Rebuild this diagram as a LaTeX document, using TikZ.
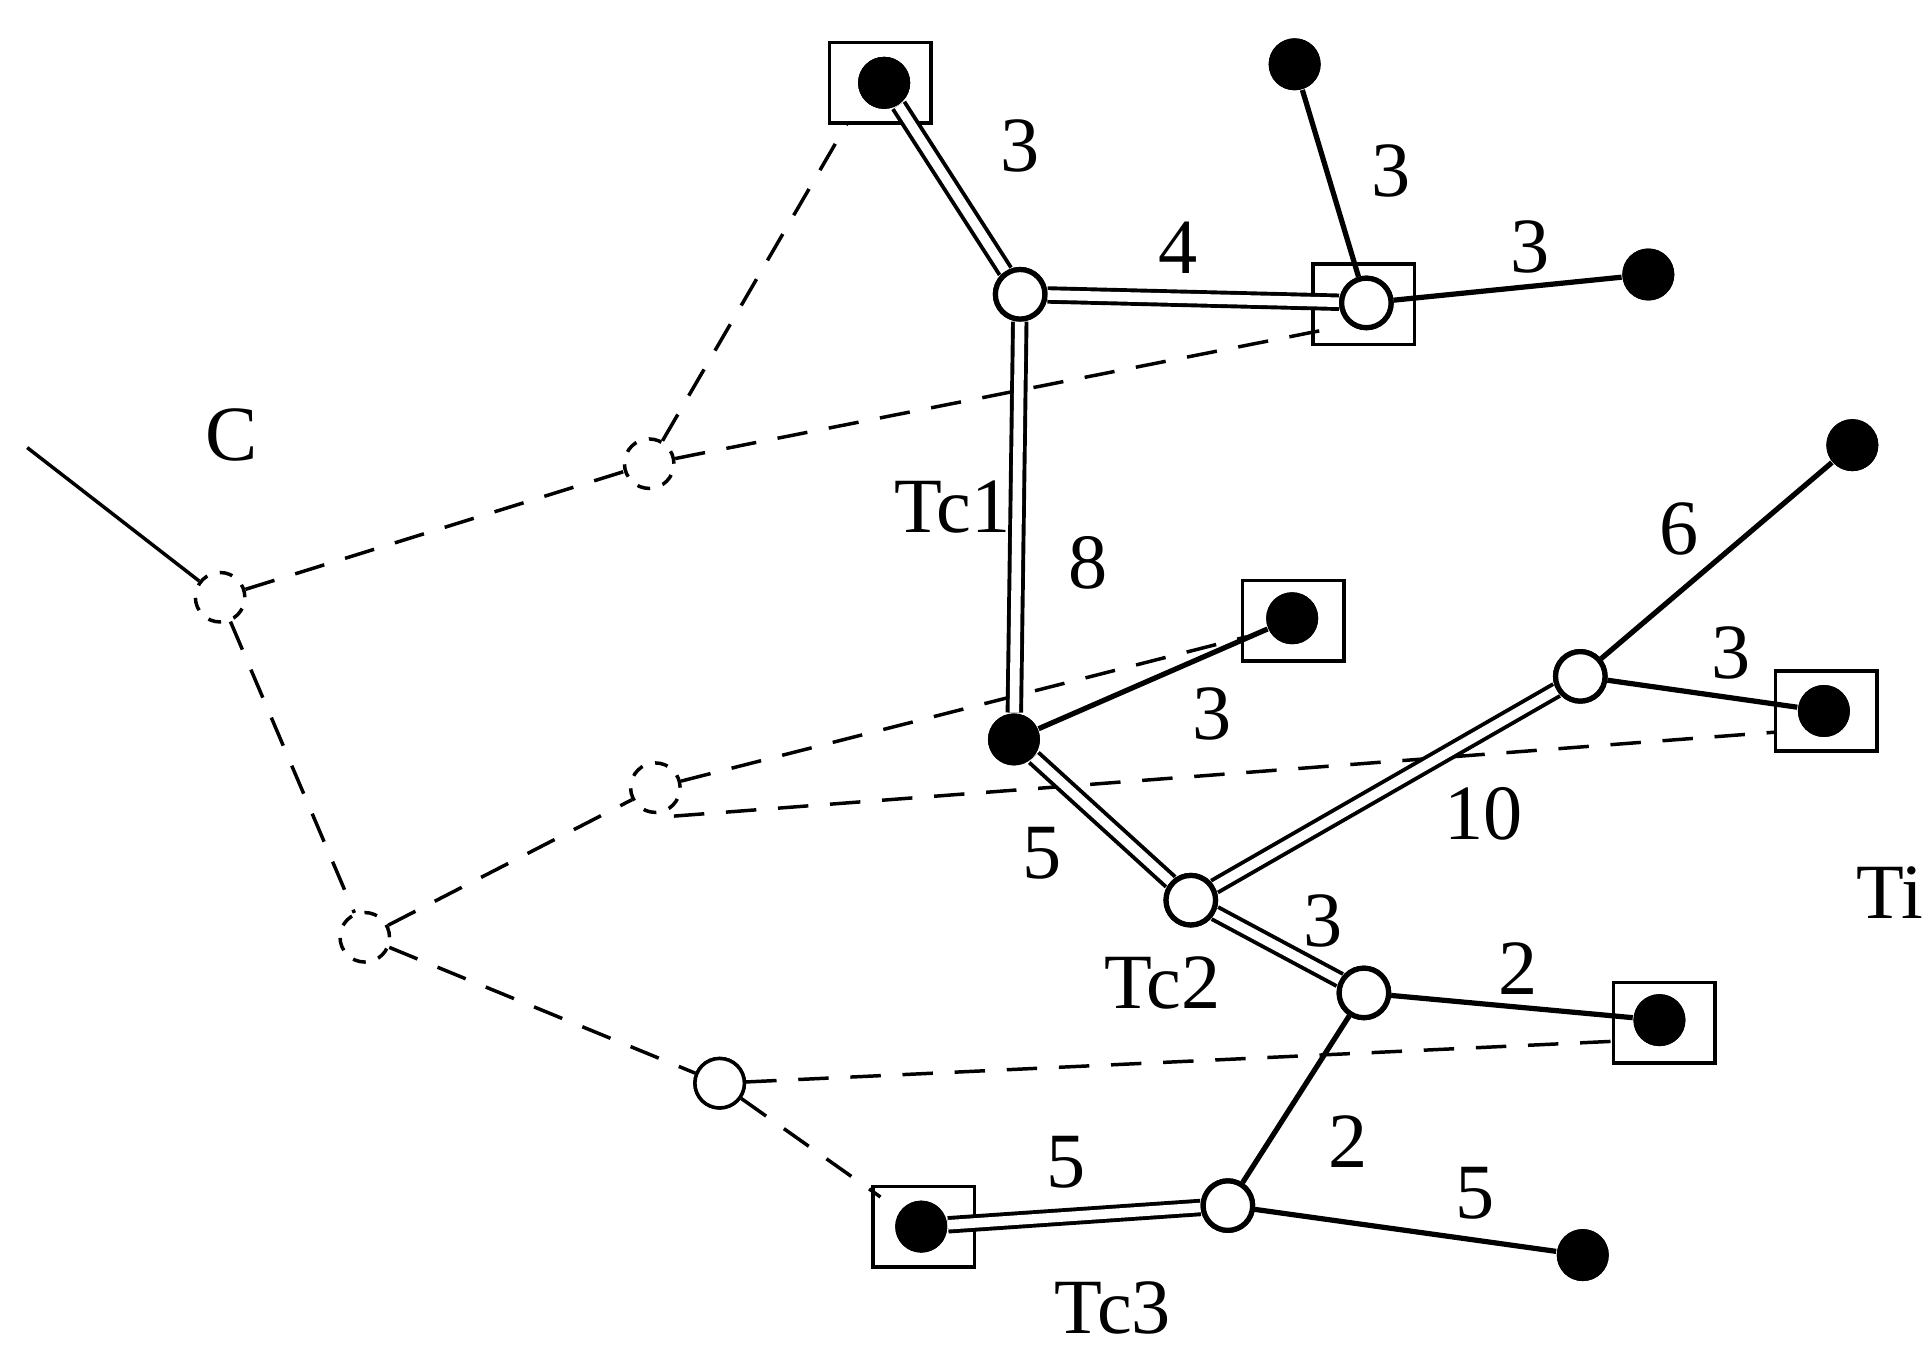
\documentclass[tikz,border=0pt]{standalone}
\usepackage{fontspec}
\setmainfont{Liberation Serif}
\begin{document}
\begin{tikzpicture}[x=0.01cm,y=-0.01cm,
 fn/.style={circle,fill=black,minimum size=0.42cm,inner sep=0pt},
 on/.style={circle,draw,line width=1.2pt,fill=white,minimum size=0.4cm,inner sep=0pt},
 dn/.style={circle,draw,dashed,line width=0.8pt,minimum size=0.4cm,inner sep=0pt},
 bx/.style={draw,line width=0.8pt,minimum width=0.82cm,minimum height=0.65cm,inner sep=0pt},
 sl/.style={line width=1.2pt},
 dl/.style={double,double distance=2.2pt,line width=0.9pt},
 da/.style={dashed,dash pattern=on 7pt off 5pt,line width=0.8pt},
 lb/.style={font=\fontsize{18}{20}\selectfont}]
\useasboundingbox (0,0) rectangle (1560,1107);
\node[bx] (Ab) at (712,67) {}; \node[fn] (A) at (715,67) {};
\node[on] (B) at (825,238) {};
\node[fn] (D) at (1047,52) {};
\node[bx] (Eb) at (1103,246) {}; \node[on] (E) at (1105,245) {};
\node[fn] (F) at (1333,222) {};
\node[fn] (G) at (820,598) {};
\node[bx] (Hb) at (1046,502) {}; \node[fn] (H) at (1045,500) {};
\node[on] (I) at (1278,547) {};
\node[fn] (J) at (1498,360) {};
\node[bx] (Kb) at (1477,575) {}; \node[fn] (K) at (1475,575) {};
\node[on] (L) at (963,728) {};
\node[on] (M) at (1103,803) {};
\node[bx] (Nb) at (1346,827) {}; \node[fn] (N) at (1342,825) {};
\node[on] (O) at (993,975) {};
\node[bx] (Pb) at (747,992) {}; \node[fn] (P) at (745,992) {};
\node[fn] (Q) at (1280,1015) {};
\node[dn] (c1) at (525,375) {};
\node[dn] (c2) at (178,483) {};
\node[dn] (c3) at (530,637) {};
\node[dn] (c4) at (295,758) {};
\node[on,line width=0.8pt] (c5) at (582,876) {};
\coordinate (t0) at (22,362);
\coordinate (a1) at (685,100); \coordinate (e1) at (1080,265);
\coordinate (h1) at (1008,515); \coordinate (k1) at (1437,592);
\coordinate (n1) at (1307,842); \coordinate (p1) at (712,968);
\coordinate (c3b) at (545,660);
\draw[line width=0.8pt] (t0) -- (c2);
\draw[da] (c2) -- (c1) (c1) -- (a1) (c1) -- (e1) (c2) -- (c4) (c4) -- (c3)
 (c3) -- (h1) (c3b) -- (k1) (c4) -- (c5) (c5) -- (n1) (c5) -- (p1);
\draw[dl] (A) -- (B); \draw[dl] (B) -- (E); \draw[dl] (B) -- (G);
\draw[dl] (G) -- (L); \draw[dl] (L) -- (I); \draw[dl] (L) -- (M); \draw[dl] (P) -- (O);
\draw[sl] (D) -- (E); \draw[sl] (E) -- (F); \draw[sl] (G) -- (H); \draw[sl] (I) -- (J);
\draw[sl] (I) -- (K); \draw[sl] (M) -- (N); \draw[sl] (M) -- (O); \draw[sl] (O) -- (Q);
\foreach \n in {A,B,D,E,F,G,H,I,J,K,L,M,N,O,P,Q,c5} \node[fn] at (\n) {};
\node[on] at (B) {}; \node[on] at (E) {}; \node[on] at (I) {}; \node[on] at (L) {};
\node[on] at (M) {}; \node[on] at (O) {}; \node[on,line width=0.8pt] at (c5) {};
\node[fn] at (A) {}; 
\node[lb] (l1) at (825,118) {3}; \node[lb] (l2) at (953,200) {4};
\node[lb] (l3) at (1125,138) {3}; \node[lb] (l4) at (1237,200) {3};
\node[lb] (l5) at (187,352) {C}; \node[lb] (l6) at (770,410) {Tc1};
\node[lb] (l7) at (880,455) {8}; \node[lb] (l8) at (980,577) {3};
\node[lb] (l9) at (1358,428) {6}; \node[lb] (l10) at (1400,528) {3};
\node[lb] (l11) at (1200,658) {10}; \node[lb] (l12) at (843,690) {5};
\node[lb] (l13) at (1528,722) {Ti}; \node[lb] (l14) at (1070,745) {3};
\node[lb] (l15) at (940,795) {Tc2}; \node[lb] (l16) at (1228,783) {2};
\node[lb] (l17) at (1090,923) {2}; \node[lb] (l18) at (862,940) {5};
\node[lb] (l19) at (1193,965) {5}; \node[lb] (l20) at (900,1058) {Tc3};
\end{tikzpicture}
\end{document}
